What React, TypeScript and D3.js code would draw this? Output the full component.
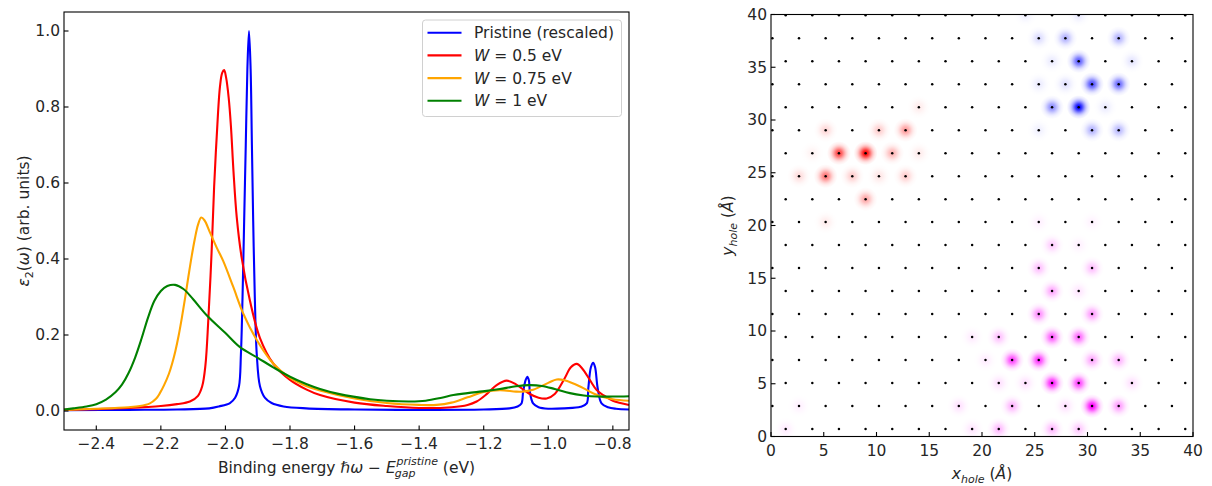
import React from 'react'
import * as d3 from 'd3'

// ---- left panel: absorption spectra, [energy (eV), eps2]
const pristine: [number, number][] = [
  [-2.5, 0.002], [-2.3, 0.003], [-2.15, 0.004], [-2.05, 0.007], [-2.02, 0.012], [-1.986, 0.021],
  [-1.97, 0.035], [-1.958, 0.065], [-1.952, 0.15], [-1.947, 0.3], [-1.942, 0.5], [-1.937, 0.7],
  [-1.932, 0.9], [-1.927, 1.0], [-1.922, 0.9], [-1.918, 0.7], [-1.914, 0.5], [-1.909, 0.3],
  [-1.903, 0.15], [-1.893, 0.065], [-1.878, 0.035], [-1.857, 0.021], [-1.82, 0.012], [-1.75, 0.007],
  [-1.6, 0.004], [-1.4, 0.003], [-1.2, 0.004], [-1.12, 0.007], [-1.095, 0.012], [-1.083, 0.02],
  [-1.078, 0.05], [-1.07, 0.082], [-1.065, 0.09], [-1.06, 0.08], [-1.057, 0.05], [-1.047, 0.02],
  [-1.03, 0.01], [-1.0, 0.006], [-0.95, 0.007], [-0.9, 0.011], [-0.881, 0.02], [-0.876, 0.06],
  [-0.868, 0.115], [-0.861, 0.127], [-0.855, 0.115], [-0.847, 0.06], [-0.835, 0.02], [-0.815, 0.01],
  [-0.79, 0.006], [-0.75, 0.004],
]
const w050: [number, number][] = [
  [-2.5, 0.003], [-2.4, 0.005], [-2.3, 0.008], [-2.2, 0.013], [-2.15, 0.018], [-2.11, 0.025],
  [-2.085, 0.04], [-2.072, 0.065], [-2.062, 0.12], [-2.053, 0.24], [-2.043, 0.415], [-2.035, 0.59],
  [-2.027, 0.722], [-2.017, 0.853], [-2.01, 0.89], [-2.004, 0.897], [-1.998, 0.878], [-1.99, 0.825],
  [-1.983, 0.75], [-1.975, 0.63], [-1.965, 0.51], [-1.95, 0.405], [-1.924, 0.29], [-1.893, 0.192],
  [-1.852, 0.125], [-1.8, 0.082], [-1.75, 0.057], [-1.707, 0.042], [-1.6, 0.022], [-1.5, 0.013],
  [-1.4, 0.008], [-1.3, 0.01], [-1.25, 0.016], [-1.222, 0.025], [-1.19, 0.045], [-1.16, 0.068],
  [-1.129, 0.08], [-1.1, 0.07], [-1.06, 0.046], [-1.03, 0.035], [-1.005, 0.033], [-0.98, 0.045],
  [-0.95, 0.085], [-0.93, 0.115], [-0.912, 0.124], [-0.895, 0.112], [-0.87, 0.08], [-0.85, 0.055],
  [-0.83, 0.042], [-0.8, 0.027], [-0.75, 0.016],
]
const w075: [number, number][] = [
  [-2.5, 0.003], [-2.4, 0.006], [-2.3, 0.01], [-2.265, 0.013], [-2.234, 0.02], [-2.215, 0.032],
  [-2.203, 0.047], [-2.19, 0.068], [-2.175, 0.098], [-2.165, 0.125], [-2.155, 0.158], [-2.145, 0.198],
  [-2.135, 0.245], [-2.125, 0.297], [-2.115, 0.352], [-2.105, 0.405], [-2.095, 0.452], [-2.085, 0.49],
  [-2.075, 0.509], [-2.065, 0.502], [-2.048, 0.47], [-2.027, 0.43], [-2.007, 0.395], [-1.976, 0.327],
  [-1.945, 0.257], [-1.903, 0.187], [-1.852, 0.125], [-1.8, 0.087], [-1.75, 0.066], [-1.707, 0.054],
  [-1.6, 0.033], [-1.5, 0.021], [-1.4, 0.016], [-1.346, 0.016], [-1.3, 0.022], [-1.25, 0.036],
  [-1.2, 0.05], [-1.15, 0.055], [-1.1, 0.051], [-1.08, 0.051], [-1.047, 0.056], [-1.0, 0.074],
  [-0.974, 0.083], [-0.95, 0.081], [-0.9, 0.064], [-0.86, 0.046], [-0.83, 0.037], [-0.8, 0.031],
  [-0.75, 0.027],
]
const w100: [number, number][] = [
  [-2.5, 0.004], [-2.471, 0.007], [-2.43, 0.012], [-2.4, 0.018], [-2.37, 0.03], [-2.34, 0.05],
  [-2.32, 0.07], [-2.3, 0.1], [-2.28, 0.14], [-2.26, 0.19], [-2.24, 0.245], [-2.22, 0.29],
  [-2.2, 0.316], [-2.18, 0.329], [-2.156, 0.332], [-2.13, 0.321], [-2.1, 0.294], [-2.058, 0.252],
  [-2.0, 0.205], [-1.955, 0.168], [-1.9, 0.14], [-1.852, 0.115], [-1.8, 0.09], [-1.75, 0.071],
  [-1.707, 0.058], [-1.65, 0.045], [-1.552, 0.031], [-1.5, 0.027], [-1.428, 0.025], [-1.38, 0.027],
  [-1.33, 0.035], [-1.294, 0.042], [-1.25, 0.047], [-1.191, 0.053], [-1.15, 0.058], [-1.1, 0.065],
  [-1.06, 0.068], [-1.02, 0.066], [-0.98, 0.058], [-0.933, 0.047], [-0.89, 0.041], [-0.85, 0.038],
  [-0.8, 0.038], [-0.75, 0.039],
]

const spectra = [
  { name: 'Pristine (rescaled)', w: '', color: '#0000ff', data: pristine },
  { name: '', w: '0.5', color: '#ff0000', data: w050 },
  { name: '', w: '0.75', color: '#ffa500', data: w075 },
  { name: '', w: '1', color: '#008000', data: w100 },
]

const energyTicks = [-2.4, -2.2, -2.0, -1.8, -1.6, -1.4, -1.2, -1.0, -0.8]
const epsTicks = [0, 0.2, 0.4, 0.6, 0.8, 1.0]

// ---- right panel: hole density on a triangular lattice
const latticeA = 2.525 // in-row spacing (Å)
const rowStep = 2.18 // row spacing (Å)
const rowY0 = 0.7
const evenX0 = 1.39
const oddX0 = 0.13
const nRows = 19
const nCols = 16
const posTicks = [0, 5, 10, 15, 20, 25, 30, 35, 40]

// [row, column, weight]
const redSites: [number, number, number][] = [
  [12, 3, 1.0], [12, 2, 0.75], [11, 2, 0.55], [13, 5, 0.4], [10, 3, 0.35], [12, 4, 0.3],
  [13, 4, 0.2], [13, 2, 0.16], [11, 3, 0.2], [11, 5, 0.2], [11, 1, 0.14], [11, 4, 0.1],
  [12, 5, 0.08], [9, 2, 0.08], [14, 5, 0.08], [12, 1, 0.05],
]
const blueSites: [number, number, number][] = [
  [14, 11, 1.0], [15, 12, 0.7], [16, 11, 0.65], [15, 13, 0.6], [14, 10, 0.45], [13, 12, 0.3],
  [13, 13, 0.28], [17, 11, 0.3], [17, 13, 0.3], [17, 10, 0.14], [15, 11, 0.12], [15, 10, 0.08],
  [16, 10, 0.08], [16, 13, 0.1], [18, 11, 0.08], [18, 9, 0.06], [14, 12, 0.08], [13, 10, 0.06],
]
const magentaSites: [number, number, number][] = [
  [1, 12, 1.0], [2, 10, 0.9], [2, 11, 0.75], [3, 9, 0.75], [3, 10, 0.8], [4, 10, 0.65],
  [4, 11, 0.6], [1, 13, 0.4], [3, 12, 0.35], [3, 13, 0.3], [5, 10, 0.45], [5, 12, 0.4],
  [6, 10, 0.35], [6, 11, 0.1], [7, 10, 0.25], [7, 12, 0.25], [8, 10, 0.2], [4, 8, 0.25],
  [1, 9, 0.3], [0, 8, 0.28], [0, 10, 0.28], [0, 11, 0.22], [2, 9, 0.12], [2, 8, 0.12],
  [1, 11, 0.12], [2, 13, 0.12], [1, 7, 0.12], [0, 7, 0.1], [0, 0, 0.08], [1, 1, 0.06],
  [4, 7, 0.08], [3, 8, 0.08], [8, 11, 0.06], [9, 10, 0.06], [9, 12, 0.05],
]
const blobGroups = [
  { id: 'gRed', color: '#ff0000', sites: redSites },
  { id: 'gBlue', color: '#0000ff', sites: blueSites },
  { id: 'gMag', color: '#ff00ff', sites: magentaSites },
]

const FONT = 'DejaVu Sans, sans-serif'
const FS = 15.5
const SUB = 11
const fmtMinus = (v: number, d: number) => v.toFixed(d).replace('-', '\u2212')

const siteX = (row: number, col: number) => (row % 2 === 0 ? evenX0 : oddX0) + col * latticeA
const siteY = (row: number) => rowY0 + row * rowStep

export default function App() {
  // left panel frame
  const L = { left: 64, right: 629, top: 12, bottom: 430 }
  const xE = d3.scaleLinear().domain([-2.5, -0.75]).range([L.left, L.right])
  const yE = d3.scaleLinear().domain([-0.05, 1.05]).range([L.bottom, L.top])
  const line = d3.line<[number, number]>()
    .x(d => xE(d[0]))
    .y(d => yE(d[1]))
    .curve(d3.curveCatmullRom.alpha(0.5))

  // right panel frame
  const R = { left: 771, right: 1193, top: 14.5, bottom: 436.5 }
  const xP = d3.scaleLinear().domain([0, 40]).range([R.left, R.right])
  const yP = d3.scaleLinear().domain([0, 40]).range([R.bottom, R.top])

  const lattice: [number, number][] = []
  for (let r = 0; r < nRows; r++) {
    for (let c = 0; c < nCols; c++) lattice.push([siteX(r, c), siteY(r)])
  }

  const tickLen = 4.5
  const gaussStops = d3.range(0, 1.0001, 0.1).map(o => ({ o, a: o >= 1 ? 0 : Math.exp(-(o * o) / (2 * 0.36 * 0.36)) }))

  return (
    <div style={{ position: 'absolute', left: 0, top: 0 }}>
      <svg width={1212} height={486} style={{ display: 'block', background: '#fff' }} fontFamily={FONT}>
        <defs>
          {blobGroups.map(g => (
            <radialGradient key={g.id} id={g.id}>
              {gaussStops.map(s => (
                <stop key={s.o} offset={s.o} stopColor={g.color} stopOpacity={s.a} />
              ))}
            </radialGradient>
          ))}
        </defs>

        {/* ---------- left panel ---------- */}
        <g>
          {spectra.map(s => (
            <path key={s.color} d={line(s.data) || ''} fill="none" stroke={s.color} strokeWidth={2.1} strokeLinejoin="round" />
          ))}
          <rect x={L.left} y={L.top} width={L.right - L.left} height={L.bottom - L.top} fill="none" stroke="#000" strokeWidth={1.1} />
          {energyTicks.map(t => (
            <g key={t} transform={`translate(${xE(t)},0)`}>
              <line y1={L.bottom} y2={L.bottom - tickLen} stroke="#000" strokeWidth={1.1} />
              <text y={L.bottom + 19} textAnchor="middle" fontSize={FS} fill="#262626">{fmtMinus(t, 1)}</text>
            </g>
          ))}
          {epsTicks.map(t => (
            <g key={t} transform={`translate(0,${yE(t)})`}>
              <line x1={L.left} x2={L.left + tickLen} stroke="#000" strokeWidth={1.1} />
              <text x={L.left - 4} dy="0.35em" textAnchor="end" fontSize={FS} fill="#262626">{t.toFixed(1)}</text>
            </g>
          ))}
          <text x={(L.left + L.right) / 2} y={473} textAnchor="middle" fontSize={FS} fill="#262626">
            Binding energy <tspan fontStyle="italic">ℏω</tspan> − <tspan fontStyle="italic">E</tspan>
            <tspan fontStyle="italic" fontSize={SUB} dy={4} dx={-1}>gap</tspan>
            <tspan fontStyle="italic" fontSize={SUB} dy={-12} dx={-19}>pristine</tspan>
            <tspan dy={8}> (eV)</tspan>
          </text>
          <text transform={`translate(29,${(L.top + L.bottom) / 2}) rotate(-90)`} textAnchor="middle" fontSize={FS} fill="#262626">
            <tspan fontStyle="italic">ε</tspan><tspan fontSize={SUB} dy={4}>2</tspan>
            <tspan dy={-4}>(</tspan><tspan fontStyle="italic">ω</tspan>) (arb. units)
          </text>

          {/* legend */}
          <rect x={422.5} y={20} width={199} height={96.5} rx={3} fill="#fff" fillOpacity={0.8} stroke="#d0d0d0" strokeWidth={1} />
          {spectra.map((s, i) => {
            const yy = 32.7 + i * 22.7
            return (
              <g key={s.color}>
                <line x1={427.5} x2={461.5} y1={yy} y2={yy} stroke={s.color} strokeWidth={2.1} />
                <text x={474} y={yy} dy="0.35em" fontSize={FS} fill="#262626">
                  {s.name ? s.name : (
                    <>
                      <tspan fontStyle="italic">W</tspan>
                      <tspan> = {s.w} eV</tspan>
                    </>
                  )}
                </text>
              </g>
            )
          })}
        </g>

        {/* ---------- right panel ---------- */}
        <g>
          <clipPath id="rclip">
            <rect x={R.left} y={R.top} width={R.right - R.left} height={R.bottom - R.top} />
          </clipPath>
          <g clipPath="url(#rclip)">
            {blobGroups.map(g => g.sites.map(([r, c, w]) => (
              <circle key={`${g.id}-${r}-${c}`} cx={xP(siteX(r, c))} cy={yP(siteY(r))} r={12}
                fill={`url(#${g.id})`} fillOpacity={w} />
            )))}
            {lattice.map(([x, y], i) => (
              <circle key={i} cx={xP(x)} cy={yP(y)} r={1.25} fill="#000" />
            ))}
          </g>
          <rect x={R.left} y={R.top} width={R.right - R.left} height={R.bottom - R.top} fill="none" stroke="#000" strokeWidth={1.1} />
          {posTicks.map(t => (
            <g key={`x${t}`} transform={`translate(${xP(t)},0)`}>
              <line y1={R.bottom} y2={R.bottom - tickLen} stroke="#000" strokeWidth={1.1} />
              <text y={R.bottom + 19} textAnchor="middle" fontSize={FS} fill="#262626">{t}</text>
            </g>
          ))}
          {posTicks.map(t => (
            <g key={`y${t}`} transform={`translate(0,${yP(t)})`}>
              <line x1={R.left} x2={R.left + tickLen} stroke="#000" strokeWidth={1.1} />
              <text x={R.left - 4} dy="0.35em" textAnchor="end" fontSize={FS} fill="#262626">{t}</text>
            </g>
          ))}
          <text x={(R.left + R.right) / 2} y={479} textAnchor="middle" fontSize={FS} fill="#262626">
            <tspan fontStyle="italic">x</tspan><tspan fontStyle="italic" fontSize={SUB} dy={4}>hole</tspan>
            <tspan dy={-4}> (</tspan><tspan fontStyle="italic">Å</tspan>)
          </text>
          <text transform={`translate(733,${(R.top + R.bottom) / 2}) rotate(-90)`} textAnchor="middle" fontSize={FS} fill="#262626">
            <tspan fontStyle="italic">y</tspan><tspan fontStyle="italic" fontSize={SUB} dy={4}>hole</tspan>
            <tspan dy={-4}> (</tspan><tspan fontStyle="italic">Å</tspan>)
          </text>
        </g>
      </svg>
    </div>
  )
}
